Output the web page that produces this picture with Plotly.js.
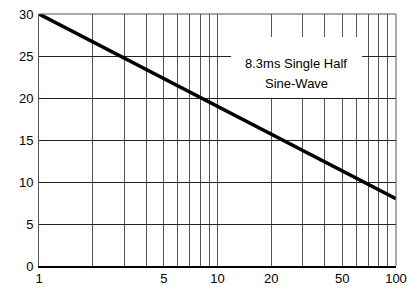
<!DOCTYPE html>
<html><head><meta charset="utf-8">
<script src="https://cdn.plot.ly/plotly-3.0.1.min.js"></script>
<style>html,body{margin:0;padding:0;background:#fff}#c{width:408px;height:288px}</style>
</head><body><div id="c"></div>
<script>
const pulses = [1, 10, 100];
const current = [30, 19, 8];
const xGrid = [1,2,3,4,5,6,7,8,9,10,20,30,40,50,60,70,80,90,100];
const xLabels = ['1','','','','5','','','','','10','20','','','50','','','','','100'];
const yTicks = [0,5,10,15,20,25,30];
const noteLines = ['8.3ms Single Half', 'Sine-Wave'];

const font = {family: 'Liberation Sans, Arial, sans-serif', size: 13, color: '#000'};
const traces = [{
  x: pulses, y: current, type: 'scatter', mode: 'lines',
  line: {color: '#000', width: 3.5}, hoverinfo: 'skip'
}];
const layout = {
  width: 408, height: 288,
  margin: {l: 39, r: 12, t: 14, b: 22},
  paper_bgcolor: '#fff', plot_bgcolor: '#fff',
  showlegend: false, font: font,
  xaxis: {
    type: 'log', range: [0, 2],
    tickmode: 'array', tickvals: xGrid, ticktext: xLabels,
    showgrid: true, gridcolor: '#555', gridwidth: 1,
    showline: true, linecolor: '#000', linewidth: 1.5, mirror: false,
    ticks: '', ticklen: 0, zeroline: false, tickfont: font
  },
  yaxis: {
    range: [0, 30], tickmode: 'array', tickvals: yTicks,
    showgrid: true, gridcolor: '#222', gridwidth: 1,
    showline: true, linecolor: '#555', linewidth: 1, mirror: false,
    ticks: '', zeroline: false, tickfont: font, ticklabelstandoff: 2
  },
  shapes: [
    {type: 'line', xref: 'paper', yref: 'paper', x0: 1, x1: 1, y0: 0, y1: 1, line: {color: '#555', width: 1}},
    {type: 'line', xref: 'paper', yref: 'paper', x0: 0, x1: 1, y0: 1, y1: 1, line: {color: '#555', width: 1}},
    {type: 'rect', xref: 'paper', yref: 'paper', layer: 'above', x0: 0.538, x1: 0.905, y0: 0.668, y1: 0.909,
     fillcolor: '#fff', line: {width: 0}}
  ],
  annotations: noteLines.map((t, i) => ({
    x: 0.721, y: [0.8016, 0.726][i], xref: 'paper', yref: 'paper',
    xanchor: 'center', yanchor: 'middle',
    text: t, showarrow: false,
    font: {family: 'Liberation Sans, Arial, sans-serif', size: 13, color: '#000'}
  }))
};
Plotly.newPlot('c', traces, layout, {displayModeBar: false, staticPlot: true});
</script></body></html>
